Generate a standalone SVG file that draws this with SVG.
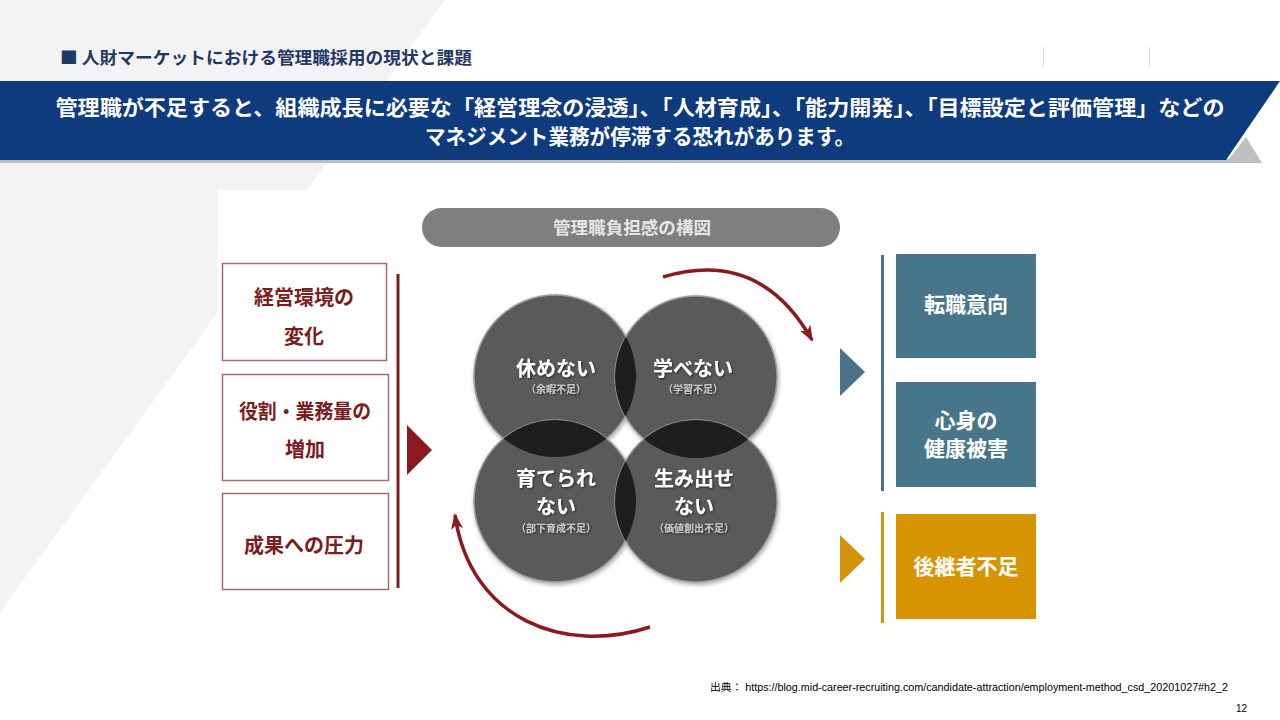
<svg xmlns="http://www.w3.org/2000/svg" width="1280" height="720" viewBox="0 0 1280 720">
<defs>
<style>
.jp{font-family:"Noto Sans CJK JP","Noto Sans",sans-serif;font-weight:bold}
.lbox{fill:#ffffff;stroke:#a86a6c;stroke-width:1.5}
.ltxt{fill:#7a1c20;font-size:20px;text-anchor:middle}
.circ{fill:#5a5a5a;stroke:#9a9a9a;stroke-width:1.5}
.lens{fill:#1e1e1e}
.ctxt{fill:#ffffff;font-size:20px;text-anchor:middle}
.csub{fill:#c8c8c8;font-size:10px;text-anchor:middle}
.rtxt{fill:#ffffff;font-size:21px;text-anchor:middle}
.arc{fill:none;stroke:#8b1a20;stroke-width:3.5}
</style>
<marker id="ah" markerWidth="16" markerHeight="12" refX="14" refY="6" orient="auto" markerUnits="userSpaceOnUse">
<path d="M0,0 L16,6 L0,12 L4,6 Z" fill="#8b1a20"/>
</marker>
<clipPath id="cTL"><circle cx="555" cy="376" r="81"/></clipPath>
<clipPath id="cTR"><circle cx="696" cy="377" r="81"/></clipPath>
<clipPath id="cBL"><circle cx="555" cy="501" r="81"/></clipPath>
<clipPath id="cBR"><circle cx="696" cy="501" r="81"/></clipPath>
<filter id="sh" x="-20%" y="-20%" width="140%" height="140%">
<feDropShadow dx="1" dy="2" stdDeviation="2" flood-color="#000" flood-opacity="0.35"/>
</filter>
<filter id="tsh" x="-10%" y="-30%" width="120%" height="160%">
<feDropShadow dx="1" dy="1" stdDeviation="0.8" flood-color="#000" flood-opacity="0.6"/>
</filter>
</defs>

<!-- background -->
<rect x="0" y="0" width="1280" height="720" fill="#ffffff"/>
<polygon points="0,0 445,0 0,612" fill="#f3f3f5"/>

<!-- header -->
<g id="title">
<text x="60" y="64" class="jp" font-size="17" fill="#1f3864" textLength="412" lengthAdjust="spacingAndGlyphs">■ 人財マーケットにおける管理職採用の現状と課題</text>
</g>
<g id="header-lines">
<line x1="1043.5" y1="47" x2="1043.5" y2="67" stroke="#d9d9d9" stroke-width="1"/>
<line x1="1149.5" y1="47" x2="1149.5" y2="67" stroke="#d9d9d9" stroke-width="1"/>
</g>
<g id="banner">
<rect x="0" y="159" width="1232" height="4" fill="#bfbfbf"/>
<polygon points="1246,137 1262,163 1226,163" fill="#bfbfbf"/>
<polygon points="0,81 1280,81 1226,160 0,160" fill="#0e3b7e"/>
<text x="640" y="115" class="jp" font-size="21" fill="#ffffff" text-anchor="middle" textLength="1169" lengthAdjust="spacingAndGlyphs">管理職が不足すると、組織成長に必要な「経営理念の浸透」、「人材育成」、「能力開発」、「目標設定と評価管理」などの</text>
<text x="640" y="144" class="jp" font-size="21" fill="#ffffff" text-anchor="middle" textLength="430" lengthAdjust="spacingAndGlyphs">マネジメント業務が停滞する恐れがあります。</text>
</g>

<!-- picture area -->
<rect x="218" y="190" width="845" height="462" fill="#ffffff"/>

<g id="pill">
<rect x="422" y="208" width="418" height="39" rx="19.5" fill="#7f7f7f"/>
<text x="632" y="234" class="jp" font-size="17" fill="#e6e6e6" text-anchor="middle" textLength="158" lengthAdjust="spacingAndGlyphs">管理職負担感の構図</text>
</g>

<g id="box-keiei">
<rect class="lbox" x="222.5" y="263.5" width="164" height="97"/>
<text class="jp ltxt" x="304" y="305" font-size="21">経営環境の</text>
<text class="jp ltxt" x="304" y="344" font-size="21">変化</text>
</g>
<g id="box-yakuwari">
<rect class="lbox" x="222.5" y="374.5" width="166" height="106"/>
<text class="jp ltxt" x="305" y="419" textLength="132" lengthAdjust="spacingAndGlyphs">役割・業務量の</text>
<text class="jp ltxt" x="305" y="457">増加</text>
</g>
<g id="box-seika">
<rect class="lbox" x="222.5" y="493.5" width="166" height="96"/>
<text class="jp ltxt" x="304" y="553">成果への圧力</text>
</g>
<g id="left-bar">
<rect x="396.5" y="274" width="3" height="314" fill="#7b1c22"/>
<polygon points="407,425 407,475 432,450" fill="#8b1a20"/>
</g>

<g id="circles">
<g filter="url(#sh)">
<circle class="circ" cx="555" cy="376" r="81"/>
<circle class="circ" cx="696" cy="377" r="81"/>
<circle class="circ" cx="555" cy="501" r="81"/>
<circle class="circ" cx="696" cy="501" r="81"/>
</g>
<circle class="lens" cx="555" cy="376" r="81" clip-path="url(#cTR)"/>
<circle class="lens" cx="555" cy="376" r="81" clip-path="url(#cBL)"/>
<circle class="lens" cx="696" cy="501" r="81" clip-path="url(#cTR)"/>
<circle class="lens" cx="696" cy="501" r="81" clip-path="url(#cBL)"/>
</g>
<g id="c-yasumenai" filter="url(#tsh)">
<text class="jp ctxt" x="556" y="376" font-size="21">休めない</text>
<text class="jp csub" x="556" y="393">（余暇不足）</text>
</g>
<g id="c-manabenai" filter="url(#tsh)">
<text class="jp ctxt" x="693" y="376" font-size="21">学べない</text>
<text class="jp csub" x="693" y="393">（学習不足）</text>
</g>
<g id="c-sodaterarenai" filter="url(#tsh)">
<text class="jp ctxt" x="556" y="486">育てられ</text>
<text class="jp ctxt" x="556" y="514">ない</text>
<text class="jp csub" x="556" y="532">（部下育成不足）</text>
</g>
<g id="c-umidasenai" filter="url(#tsh)">
<text class="jp ctxt" x="694" y="486">生み出せ</text>
<text class="jp ctxt" x="694" y="514">ない</text>
<text class="jp csub" x="694" y="532">（価値創出不足）</text>
</g>

<g id="connectors">
<path class="arc" d="M663,277 Q760,248 812,340" marker-end="url(#ah)"/>
<path class="arc" d="M650,627 C565,655 470,620 455,515" marker-end="url(#ah)"/>
</g>

<g id="right-teal">
<polygon points="840,348 840,396 865,372" fill="#4a7389"/>
<rect x="881" y="255" width="3" height="236" fill="#4a7389"/>
</g>
<g id="box-tenshoku">
<rect x="896" y="254" width="140" height="104" fill="#47758a"/>
<text class="jp rtxt" x="966" y="312">転職意向</text>
</g>
<g id="box-kenko">
<rect x="896" y="382" width="140" height="105" fill="#47758a"/>
<text class="jp rtxt" x="966" y="428">心身の</text>
<text class="jp rtxt" x="966" y="456">健康被害</text>
</g>
<g id="right-gold">
<polygon points="840,535 840,583 865,559" fill="#d4930a"/>
<rect x="881" y="512" width="3" height="111" fill="#d4930a"/>
</g>
<g id="box-koukei">
<rect x="896" y="514" width="140" height="105" fill="#d69500"/>
<text class="jp rtxt" x="966" y="574" font-size="22">後継者不足</text>
</g>

<g id="footer">
<text x="710" y="691" font-family="'Liberation Sans','Noto Sans CJK JP',sans-serif" font-size="10" fill="#000000" textLength="518" lengthAdjust="spacingAndGlyphs">出典： https://blog.mid-career-recruiting.com/candidate-attraction/employment-method_csd_20201027#h2_2</text>
<text x="1247" y="712" font-family="'Liberation Sans',sans-serif" font-size="10" fill="#000000" text-anchor="end">12</text>
</g>
</svg>
